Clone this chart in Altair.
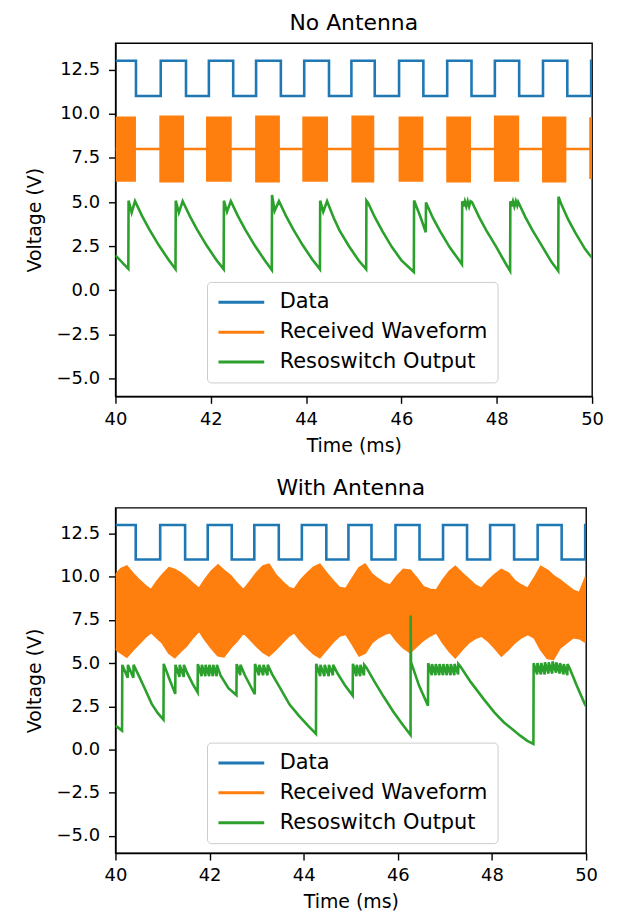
import altair as alt
import pandas as pd

SERIES = ["Data", "Received Waveform", "Resoswitch Output"]
COLORS = ["#1f77b4", "#ff7f0e", "#2ca02c"]

# ---- Data square wave (same in both panels) ----
data_high = 13.0
data_low = 11.0
data_fall = [40.43, 41.48, 42.47, 43.47, 44.48, 45.44, 46.46, 47.47, 48.47, 49.48]
data_rise = [40.95, 41.96, 42.95, 43.96, 44.95, 45.95, 46.96, 47.96, 48.97, 49.98]

# ---- No antenna: received bursts around 8 V ----
rx_level = 8.0
burst_start = [40.00, 40.92, 41.90, 42.93, 43.92, 44.95, 45.94, 46.94, 47.94, 48.95, 49.94]
burst_end = [40.43, 41.44, 42.44, 43.45, 44.46, 45.43, 46.46, 47.46, 48.47, 49.46, 50.00]
burst_hi = [9.85, 9.90, 9.85, 9.90, 9.85, 9.90, 9.85, 9.85, 9.90, 9.85, 9.80]
burst_lo = [6.15, 6.10, 6.15, 6.10, 6.15, 6.10, 6.15, 6.10, 6.15, 6.10, 6.30]

# ---- No antenna: resoswitch output ----
g1_t = [40.00, 40.27, 40.275, 40.34, 40.41, 40.56, 40.71, 40.91, 41.11, 41.26,
        41.265, 41.33, 41.41, 41.56, 41.71, 41.91, 42.11, 42.27,
        42.275, 42.34, 42.42, 42.57, 42.72, 42.92, 43.12, 43.28,
        43.285, 43.34, 43.43, 43.58, 43.73, 43.93, 44.13, 44.29,
        44.295, 44.36, 44.44, 44.58, 44.70, 44.90, 45.10, 45.26,
        45.265, 45.30, 45.45, 45.60, 45.80, 46.00, 46.26,
        46.265, 46.40, 46.51, 46.515, 46.66, 46.81, 47.01, 47.21, 47.27,
        47.275, 47.30, 47.33, 47.36, 47.39, 47.42, 47.45, 47.48, 47.63, 47.78, 47.98, 48.18, 48.28,
        48.285, 48.31, 48.34, 48.37, 48.40, 48.43, 48.45, 48.60, 48.75, 48.95, 49.15, 49.29,
        49.295, 49.35, 49.50, 49.65, 49.85, 49.94, 50.00]
g1_v = [1.98, 1.22, 5.08, 4.40, 5.05, 4.20, 3.45, 2.55, 1.75, 1.20,
        5.08, 4.40, 5.05, 4.20, 3.45, 2.55, 1.75, 1.20,
        5.08, 4.45, 5.05, 4.20, 3.45, 2.55, 1.75, 1.15,
        5.40, 4.50, 5.05, 4.20, 3.45, 2.55, 1.75, 1.20,
        5.08, 4.45, 5.05, 4.10, 3.40, 2.50, 1.70, 1.19,
        5.08, 4.95, 4.10, 3.35, 2.45, 1.70, 1.04,
        5.09, 4.15, 3.29, 4.98, 4.10, 3.35, 2.45, 1.70, 1.47,
        5.05, 4.75, 5.05, 4.75, 5.05, 4.75, 5.05, 5.00, 4.15, 3.40, 2.50, 1.55, 1.10,
        5.05, 4.75, 5.05, 4.75, 5.05, 4.80, 5.00, 4.15, 3.40, 2.50, 1.60, 1.10,
        5.30, 4.90, 4.00, 3.25, 2.35, 2.03, 1.85]

# ---- With antenna: received waveform envelope ----
env_t = [40.00, 40.12, 40.24, 40.36, 40.50, 40.62, 40.76, 40.88,
         41.00, 41.14, 41.26, 41.38, 41.50, 41.64, 41.78, 41.90,
         42.04, 42.18, 42.30, 42.44, 42.58, 42.72, 42.86,
         43.00, 43.14, 43.26, 43.40, 43.54, 43.68, 43.80, 43.94,
         44.08, 44.22, 44.34, 44.48, 44.62, 44.76, 44.90,
         45.04, 45.18, 45.30, 45.44, 45.58, 45.72, 45.84, 45.98,
         46.12, 46.26, 46.40, 46.54, 46.68, 46.82, 46.96,
         47.10, 47.22, 47.36, 47.50, 47.64, 47.78, 47.92,
         48.06, 48.20, 48.34, 48.48, 48.62, 48.76, 48.90,
         49.04, 49.18, 49.30, 49.44, 49.58, 49.72, 49.86, 50.00]
env_hi = [10.08, 10.45, 10.60, 10.20, 9.80, 9.50, 9.21, 9.70,
          10.10, 10.50, 10.40, 10.20, 9.95, 9.60, 9.30, 9.80,
          10.30, 10.66, 10.35, 10.05, 9.60, 9.21, 9.70,
          10.20, 10.60, 10.70, 10.10, 9.70, 9.35, 9.25, 9.80,
          10.20, 10.55, 10.70, 10.20, 9.75, 9.35, 9.30,
          9.90, 10.50, 10.70, 10.15, 9.85, 9.60, 9.50, 10.00,
          10.40, 10.35, 9.90, 9.40, 9.25, 9.20, 9.80,
          10.30, 10.57, 10.20, 9.85, 9.50, 9.30, 9.75,
          10.10, 10.40, 10.20, 9.75, 9.50, 9.30, 9.90,
          10.57, 10.35, 10.05, 9.80, 9.50, 9.20, 9.05, 10.00]
env_lo = [5.83, 5.60, 5.38, 5.75, 6.15, 6.50, 6.80, 6.50,
          6.20, 5.60, 5.35, 5.70, 6.00, 6.50, 6.90, 6.40,
          5.90, 5.45, 5.40, 5.90, 6.30, 6.80, 6.40,
          6.00, 5.65, 5.45, 5.80, 6.20, 6.60, 6.80, 6.30,
          5.90, 5.55, 5.35, 5.80, 6.25, 6.60, 6.70,
          6.10, 5.45, 5.60, 6.20, 6.50, 6.70, 6.80, 6.30,
          5.90, 5.64, 6.00, 6.35, 6.60, 6.80, 6.20,
          5.70, 5.35, 5.80, 6.20, 6.45, 6.60, 6.30,
          5.90, 5.45, 5.80, 6.20, 6.50, 6.70, 6.50,
          5.80, 5.30, 5.25, 5.90, 6.20, 6.50, 6.45, 6.22]

# ---- With antenna: resoswitch output ----
g2_t = [40.00, 40.14, 40.145, 40.26, 40.265, 40.38, 40.385, 40.50, 40.62, 40.77, 40.90, 41.02,
        41.025, 41.15, 41.27, 41.275, 41.36, 41.365, 41.45, 41.455, 41.52, 41.64, 41.745,
        41.75, 41.83, 41.835, 41.91, 41.915, 41.99, 41.995, 42.07, 42.075, 42.15, 42.155, 42.23, 42.40, 42.57,
        42.575, 42.65, 42.655, 42.75, 42.96,
        42.965, 43.05, 43.055, 43.14, 43.145, 43.23, 43.235, 43.33, 43.50, 43.70, 43.90, 44.10, 44.26,
        44.265, 44.35, 44.355, 44.44, 44.445, 44.53, 44.535, 44.62, 44.625, 44.72, 44.88, 45.04,
        45.045, 45.12, 45.125, 45.20, 45.205, 45.28, 45.285, 45.33, 45.50, 45.70, 45.90, 46.10, 46.27,
        46.272, 46.28, 46.45, 46.64,
        46.645, 46.72, 46.725, 46.80, 46.805, 46.88, 46.885, 46.96, 46.965, 47.04, 47.045, 47.12,
        47.125, 47.20, 47.205, 47.28, 47.285, 47.33,
        47.55, 47.82, 48.05, 48.25, 48.60, 48.75, 48.88,
        48.885, 48.96, 48.965, 49.04, 49.045, 49.12, 49.125, 49.20, 49.205, 49.28, 49.285, 49.36,
        49.365, 49.44, 49.445, 49.52, 49.525, 49.60, 49.605, 49.65, 49.80, 49.97, 50.00]
g2_v = [1.38, 1.09, 4.90, 4.15, 4.90, 4.15, 4.90, 4.25, 3.55, 2.64, 2.10, 1.73,
        4.96, 4.05, 3.22, 4.90, 4.20, 4.90, 4.20, 4.90, 4.45, 3.80, 3.31,
        4.95, 4.25, 4.90, 4.25, 4.90, 4.25, 4.90, 4.25, 4.90, 4.25, 4.90, 4.30, 3.55, 3.15,
        4.95, 4.30, 4.90, 4.30, 3.20,
        4.95, 4.30, 4.90, 4.30, 4.90, 4.30, 4.90, 4.35, 3.55, 2.60, 1.95, 1.35, 0.90,
        4.96, 4.25, 4.90, 4.25, 4.90, 4.25, 4.90, 4.30, 4.90, 4.40, 3.70, 3.12,
        4.96, 4.25, 4.90, 4.25, 4.90, 4.30, 4.90, 4.75, 3.95, 3.05, 2.20, 1.45, 0.84,
        7.76, 5.06, 3.70, 2.54,
        5.00, 4.30, 4.95, 4.30, 4.95, 4.30, 4.95, 4.30, 4.95, 4.30, 4.95, 4.30,
        4.95, 4.30, 4.95, 4.35, 4.95, 4.80,
        3.90, 2.93, 2.15, 1.58, 0.80, 0.50, 0.32,
        5.00, 4.35, 5.00, 4.35, 5.00, 4.35, 5.05, 4.40, 5.05, 4.40, 5.10, 4.45,
        5.05, 4.40, 5.00, 4.35, 4.95, 4.30, 4.95, 4.70, 3.70, 2.64, 2.50]

x_ticks = [40, 42, 44, 46, 48, 50]
y_ticks = [-5.0, -2.5, 0.0, 2.5, 5.0, 7.5, 10.0, 12.5]


def data_frame():
    t, v = [40.0], [data_high]
    for f, r in zip(data_fall, data_rise):
        t += [f, f, r, r]
        v += [data_high, data_low, data_low, data_high]
    t.append(50.0)
    v.append(data_high)
    return pd.DataFrame({"t": t, "v": v, "series": "Data", "seg": "d", "i": range(len(t))})


def line_df(t, v, series, seg="a"):
    df = pd.DataFrame({"t": t, "v": v})
    df["series"] = series
    df["seg"] = seg
    df["i"] = range(len(df))
    return df


def panel(title, orange_lines, orange_area, green, legend_y, w, h):
    xs = alt.Scale(domain=[40, 50], nice=False, zero=False)
    ys = alt.Scale(domain=[-6, 14], nice=False, zero=False)
    xax = alt.Axis(values=x_ticks, format="d", title="Time (ms)", labelPadding=7,
                   labelFlush=False)
    yax = alt.Axis(values=y_ticks, format=".1f", title="Voltage (V)", labelPadding=9,
                   titlePadding=12, labelFlush=False)
    color = alt.Color(
        "series:N",
        scale=alt.Scale(domain=SERIES, range=COLORS),
        legend=alt.Legend(title=None, orient="none", legendX=92, legendY=legend_y),
    )

    def lines(df):
        return alt.Chart(df).mark_line(strokeWidth=2.6, clip=True).encode(
            x=alt.X("t:Q", scale=xs, axis=xax),
            y=alt.Y("v:Q", scale=ys, axis=yax),
            color=color,
            detail="seg:N",
            order=alt.Order("i:Q"),
        )

    area = alt.Chart(orange_area).mark_area(color=COLORS[1], opacity=1, clip=True).encode(
        x=alt.X("t:Q", scale=xs, axis=xax),
        y=alt.Y("lo:Q", scale=ys, axis=yax),
        y2="hi:Q",
        detail="g:N",
    )
    return alt.layer(
        lines(data_frame()), area, lines(orange_lines), lines(green)
    ).properties(width=w, height=h, title=title)


# top panel pieces
top_area_rows = []
for k, (s, e, hi, lo) in enumerate(zip(burst_start, burst_end, burst_hi, burst_lo)):
    top_area_rows.append({"t": s, "lo": lo, "hi": hi, "g": k})
    top_area_rows.append({"t": e, "lo": lo, "hi": hi, "g": k})
top_area = pd.DataFrame(top_area_rows)
top_orange = line_df([40.0, 50.0], [rx_level, rx_level], "Received Waveform")
top_green = line_df(g1_t, g1_v, "Resoswitch Output")

# bottom panel pieces
bot_area = pd.DataFrame({"t": env_t, "lo": env_lo, "hi": env_hi, "g": 0})
bot_orange = pd.concat([
    line_df(env_t, env_hi, "Received Waveform", "hi"),
    line_df(env_t, env_lo, "Received Waveform", "lo"),
])
bot_green = line_df(g2_t, g2_v, "Resoswitch Output")

top = panel("No Antenna", top_orange, top_area, top_green, 240, 479, 355)
bottom = panel("With Antenna", bot_orange, bot_area, bot_green, 236, 473, 347)

chart = alt.vconcat(top, bottom, spacing=20).resolve_scale(color="independent").configure(
    font="DejaVu Sans",
    padding={"left": 16, "top": 1, "right": 5, "bottom": 2},
).configure_view(
    stroke="black", strokeWidth=1.4
).configure_axis(
    grid=False, domainColor="black", domainWidth=1.4, tickColor="black", tickWidth=1.4,
    tickSize=7, labelPadding=6, labelFontSize=18, titleFontSize=19, labelColor="black",
    titleColor="black", titleFontWeight="normal", titlePadding=8,
    labelFont="DejaVu Sans", titleFont="DejaVu Sans",
).configure_title(
    fontSize=22, fontWeight="normal", color="black", offset=8, font="DejaVu Sans"
).configure_legend(
    labelFontSize=21, labelFont="DejaVu Sans", labelColor="black", labelLimit=400,
    symbolType="stroke", symbolSize=2116, symbolStrokeWidth=3, labelOffset=14,
    clipHeight=21, rowPadding=8, padding=10, strokeColor="#cccccc", fillColor="white",
    cornerRadius=4,
)

chart.save("out.html", embed_options={"renderer": "svg", "actions": False})
